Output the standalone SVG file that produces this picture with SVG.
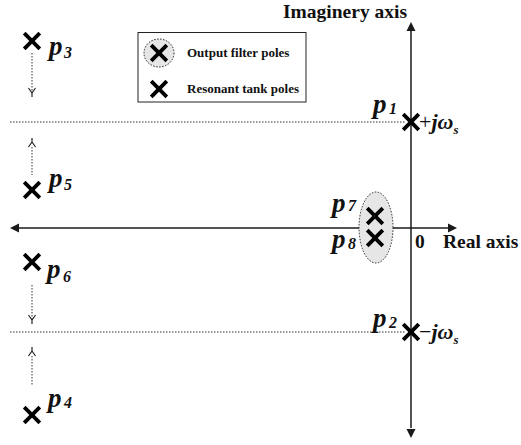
<svg xmlns="http://www.w3.org/2000/svg" width="521" height="445" viewBox="0 0 521 445">
<style>
text{font-family:"Liberation Serif","Times New Roman",serif;fill:#111}
.ax{stroke:#1a1a1a;stroke-width:1.5;fill:none}
.dot{stroke:#333;stroke-width:1;stroke-dasharray:1.5 1.5;fill:none}
.x{stroke:#000;stroke-width:3.8;stroke-linecap:butt;fill:none}
.grp{fill:#e6e6e6;stroke:#222;stroke-width:1;stroke-dasharray:1.5 1.5}
.chev{stroke:#222;stroke-width:1.2;fill:none}
.p{font-weight:bold;font-style:italic;font-size:27px}
.sub{font-weight:bold;font-style:italic;font-size:16px}
.lbl{font-weight:bold;font-size:19.5px}
.leg{font-weight:bold;font-size:13px}
.w{font-weight:bold;font-style:italic;font-size:22px}
.op{font-size:22px}
.ws{font-weight:bold;font-style:italic;font-size:13px}
</style>
<defs>
<path id="xm" d="M-7.8,-7.8L7.8,7.8M7.8,-7.8L-7.8,7.8" class="x"/>
</defs>
<g id="connectors">
<line class="dot" x1="10" y1="122" x2="406" y2="122"/>
<line class="dot" x1="10" y1="332" x2="406" y2="332"/>
<line class="ax" x1="411" y1="30" x2="411" y2="428"/>
<polygon points="411,22 406.5,31 415.5,31" fill="#1a1a1a"/>
<polygon points="411,438 406.5,429 415.5,429" fill="#1a1a1a"/>
<line class="ax" x1="18" y1="228" x2="449" y2="228"/>
<polygon points="10,228 19,223.5 19,232.5" fill="#1a1a1a"/>
<polygon points="457,228 448,223.5 448,232.5" fill="#1a1a1a"/>
<line class="dot" x1="32" y1="53" x2="32" y2="93"/>
<path class="chev" d="M28.5,88 L32,93 L35.5,88 M32,93 V97"/>
<line class="dot" x1="32" y1="147" x2="32" y2="175"/>
<path class="chev" d="M28.5,147 L32,142 L35.5,147 M32,142 V138"/>
<line class="dot" x1="32" y1="285" x2="32" y2="320"/>
<path class="chev" d="M28.5,315 L32,320 L35.5,315 M32,320 V324"/>
<line class="dot" x1="32" y1="356" x2="32" y2="385"/>
<path class="chev" d="M28.5,356 L32,351 L35.5,356 M32,351 V347"/>
</g>
<g id="legend">
<rect x="138" y="32.5" width="168" height="69.5" fill="#fff" stroke="#222" stroke-width="1"/>
<ellipse class="grp" cx="159" cy="53" rx="15" ry="14"/>
<use href="#xm" x="159" y="53"/>
<text class="leg" x="187" y="57">Output filter poles</text>
<use href="#xm" x="159" y="89"/>
<text class="leg" x="187" y="93">Resonant tank poles</text>
</g>
<g id="p3">
<use href="#xm" x="32" y="41"/>
<text class="p" x="49" y="55">p</text><text class="sub" x="64" y="58">3</text>
</g>
<g id="p5">
<use href="#xm" x="32" y="190"/>
<text class="p" x="49" y="187">p</text><text class="sub" x="64" y="190">5</text>
</g>
<g id="p6">
<use href="#xm" x="32" y="262"/>
<text class="p" x="47" y="278">p</text><text class="sub" x="63" y="282">6</text>
</g>
<g id="p4">
<use href="#xm" x="32" y="415"/>
<text class="p" x="48" y="407">p</text><text class="sub" x="64" y="408">4</text>
</g>
<g id="p1">
<use href="#xm" x="411" y="122"/>
<text class="p" x="373" y="113">p</text><text class="sub" x="389" y="114">1</text>
<text x="419" y="129"><tspan class="op">+</tspan><tspan class="w">jω</tspan><tspan class="ws" dy="5">s</tspan></text>
</g>
<g id="p2">
<use href="#xm" x="411" y="332"/>
<text class="p" x="373" y="327">p</text><text class="sub" x="389" y="328">2</text>
<text x="419" y="339"><tspan class="op">−</tspan><tspan class="w">jω</tspan><tspan class="ws" dy="5">s</tspan></text>
</g>
<g id="p7p8">
<ellipse class="grp" cx="376" cy="227.5" rx="17" ry="35.5"/>
<use href="#xm" x="375" y="216"/>
<use href="#xm" x="375" y="238"/>
<text class="p" x="332" y="212">p</text><text class="sub" x="348" y="211">7</text>
<text class="p" x="332" y="248">p</text><text class="sub" x="348" y="249">8</text>
</g>
<g id="labels">
<text class="lbl" x="283" y="18">Imaginery axis</text>
<text class="lbl" x="415" y="248">0</text>
<text class="lbl" x="443" y="248">Real axis</text>
</g>
</svg>
